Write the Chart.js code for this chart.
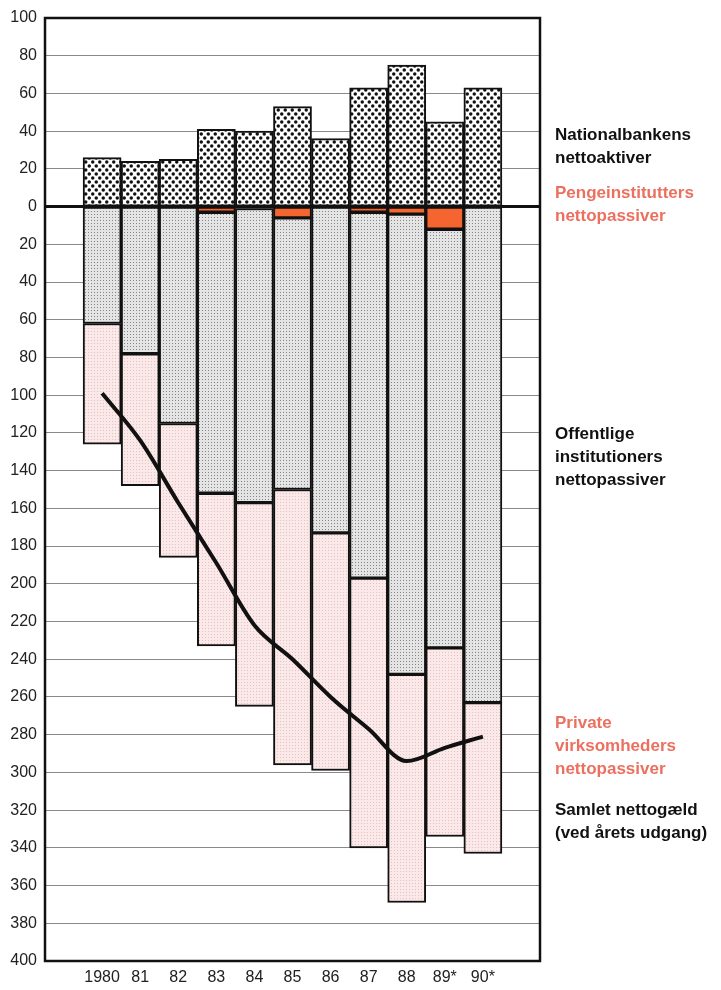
<!DOCTYPE html>
<html>
<head>
<meta charset="utf-8">
<script src="https://cdn.jsdelivr.net/npm/chart.js@4"></script>
<style>
    html, body { margin: 0; padding: 0; background: #fff; }
    #wrap { position: relative; width: 721px; height: 990px; }
    .note {
        position: absolute;
        left: 555px;
        font-family: "Liberation Sans", Arial, sans-serif;
        font-weight: bold;
        font-size: 17px;
        line-height: 23px;
        color: #111;
        white-space: nowrap;
    }
    .note.red { color: #ec7060; }
</style>
</head>
<body>
<div id="wrap">
    <canvas id="chart" width="721" height="990"></canvas>
    <div class="note" style="top:123px">Nationalbankens<br>nettoaktiver</div>
    <div class="note red" style="top:181px">Pengeinstitutters<br>nettopassiver</div>
    <div class="note" style="top:422px">Offentlige<br>institutioners<br>nettopassiver</div>
    <div class="note red" style="top:711px">Private<br>virksomheders<br>nettopassiver</div>
    <div class="note" style="top:798px">Samlet nettogæld<br>(ved årets udgang)</div>
</div>
<script>
// --- DATA (mia. kr.) ---
const years = ['1980', '81', '82', '83', '84', '85', '86', '87', '88', '89*', '90*'];
const nationalbank = [26, 24, 25, 41, 40, 53, 36, 63, 75, 45, 63];
const pengeinst = [0, 0, 0, -3, -1, -6, 0, -3, -4, -12, 0];
const offentlige = [-62, -78, -115, -149, -156, -144, -173, -194, -244, -222, -263];
const private_ = [-64, -70, -71, -81, -108, -146, -126, -143, -121, -100, -80];
const samlet = [-99, -124, -157, -189, -222, -240, -260, -277, -294, -287, -281];

// one empty slot on each side, like the original
const pad = arr => [null, ...arr, null];

// --- PATTERNS ---
function makePattern(w, h, bg, dots, color, r) {
    const c = document.createElement('canvas');
    c.width = w; c.height = h;
    const g = c.getContext('2d');
    g.fillStyle = bg;
    g.fillRect(0, 0, w, h);
    g.fillStyle = color;
    dots.forEach(([x, y]) => {
        if (r) {
            g.beginPath();
            g.arc(x, y, r, 0, Math.PI * 2);
            g.fill();
        } else {
            g.fillRect(x, y, 1, 1);
        }
    });
    return g.createPattern(c, 'repeat');
}

const nbPattern = makePattern(7, 8, '#ffffff', [[1.75, 2], [5.25, 6]], '#111', 1.75);
const offPattern = makePattern(3, 3, '#e4e4e4', [[1, 1]], '#858585');
const privPattern = makePattern(3, 3, '#fbe8e8', [[1, 1]], '#e2c2c2');

// --- PLUGINS ---
const framePlugin = {
    id: 'frame',
    afterDatasetsDraw(chart) {
        const { ctx, chartArea: a, scales } = chart;
        const y0 = scales.y.getPixelForValue(0);
        ctx.save();
        ctx.strokeStyle = '#111';
        ctx.lineWidth = 3;
        ctx.beginPath();
        ctx.moveTo(a.left, y0);
        ctx.lineTo(a.right, y0);
        ctx.stroke();
        ctx.lineWidth = 2.5;
        ctx.strokeRect(a.left, a.top, a.right - a.left, a.bottom - a.top);
        ctx.restore();
    }
};

// --- CHART ---
const ctx = document.getElementById('chart').getContext('2d');
const barStyle = { borderColor: '#111', borderWidth: 2, borderSkipped: false, categoryPercentage: 1, barPercentage: 1, order: 1, stack: 'a' };

new Chart(ctx, {
    type: 'bar',
    data: {
        labels: pad(years).map(v => v || ''),
        datasets: [
            { label: 'Nationalbankens nettoaktiver', data: pad(nationalbank), backgroundColor: nbPattern, ...barStyle },
            { label: 'Pengeinstitutters nettopassiver', data: pad(pengeinst), backgroundColor: '#f4652f', ...barStyle },
            { label: 'Offentlige institutioners nettopassiver', data: pad(offentlige), backgroundColor: offPattern, ...barStyle },
            { label: 'Private virksomheders nettopassiver', data: pad(private_), backgroundColor: privPattern, ...barStyle },
            {
                type: 'line',
                label: 'Samlet nettogæld',
                data: pad(samlet),
                borderColor: '#111',
                borderWidth: 4,
                pointRadius: 0,
                cubicInterpolationMode: 'monotone',
                order: 0,
                stack: 'line'
            }
        ]
    },
    options: {
        responsive: false,
        animation: false,
        layout: { padding: { top: 18, right: 181, left: 0, bottom: 0 } },
        plugins: { legend: { display: false }, tooltip: { enabled: false } },
        scales: {
            x: {
                stacked: true,
                offset: true,
                grid: { display: false, drawTicks: false },
                border: { display: false },
                ticks: { color: '#222', padding: 7, font: { family: 'Liberation Sans', size: 16 }, maxRotation: 0, autoSkip: false },
                afterFit: s => { s.height = 29; }
            },
            y: {
                stacked: true,
                min: -400,
                max: 100,
                grid: { color: '#8a8a8a', lineWidth: 1, drawTicks: false },
                border: { display: false },
                ticks: {
                    stepSize: 20,
                    padding: 8,
                    color: '#222',
                    font: { family: 'Liberation Sans', size: 16 },
                    callback: v => Math.abs(v)
                },
                afterFit: s => { s.width = 45; }
            }
        }
    },
    plugins: [framePlugin]
});
</script>
</body>
</html>
